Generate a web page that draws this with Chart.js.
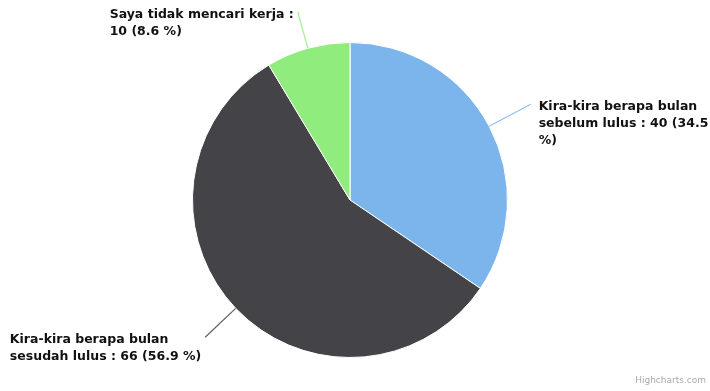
<!DOCTYPE html>
<html>
<head>
    <title>Pie</title>
    <script src="https://cdn.jsdelivr.net/npm/chart.js"></script>
    <style>
        body { margin: 0; background: #fff; }
        #wrap { position: relative; width: 710px; height: 391px; }
    </style>
</head>
<body>
    <div id="wrap"><canvas id="pieChart"></canvas></div>

    <script>
        const categories = [
            'Kira-kira berapa bulan sebelum lulus',
            'Kira-kira berapa bulan sesudah lulus',
            'Saya tidak mencari kerja'
        ];
        const values = [40, 66, 10];
        const colors = ['#7cb5ec', '#434348', '#90ed7d'];
        // how far out each label sits from the pie edge, and its wrap width
        const labelDistance = [47, 42, 38];
        const labelWrap = [172, 200, 195];

        const total = values.reduce((a, b) => a + b, 0);

        function wrapText(ctx, text, maxWidth) {
            const words = text.split(' ');
            const lines = [];
            let line = '';
            words.forEach(w => {
                const test = line ? line + ' ' + w : w;
                if (line && ctx.measureText(test).width > maxWidth) {
                    lines.push(line);
                    line = w;
                } else {
                    line = test;
                }
            });
            if (line) lines.push(line);
            return lines;
        }

        const pieLabels = {
            id: 'pieLabels',
            afterDatasetsDraw(chart) {
                const ctx = chart.ctx;
                const meta = chart.getDatasetMeta(0);
                ctx.save();
                ctx.font = 'bold 12.5px "DejaVu Sans"';
                ctx.textBaseline = 'middle';
                meta.data.forEach((arc, i) => {
                    const p = arc.getProps(['x', 'y', 'startAngle', 'endAngle', 'outerRadius'], true);
                    const mid = (p.startAngle + p.endAngle) / 2;
                    const cos = Math.cos(mid), sin = Math.sin(mid);
                    const sx = p.x + cos * p.outerRadius;
                    const sy = p.y + sin * p.outerRadius;
                    const ax = p.x + cos * (p.outerRadius + labelDistance[i]);
                    const ay = p.y + sin * (p.outerRadius + labelDistance[i]);

                    ctx.strokeStyle = colors[i];
                    ctx.globalAlpha = 0.85;
                    ctx.lineWidth = 1.2;
                    ctx.beginPath();
                    ctx.moveTo(sx, sy);
                    ctx.lineTo(ax, ay);
                    ctx.stroke();
                    ctx.globalAlpha = 1;

                    const pct = (values[i] / total * 100).toFixed(1);
                    const text = categories[i] + ' : ' + values[i] + ' (' + pct + ' %)';
                    const lines = wrapText(ctx, text, labelWrap[i]);
                    const w = Math.max(...lines.map(l => ctx.measureText(l).width));
                    const tx = cos >= 0 ? ax + 8 : ax - 4 - w;
                    ctx.fillStyle = '#111';
                    ctx.textAlign = 'left';
                    lines.forEach((l, k) => ctx.fillText(l, tx, ay + 3 + k * 17));
                });

                ctx.font = '9px "DejaVu Sans"';
                ctx.fillStyle = '#aaa';
                ctx.textAlign = 'right';
                ctx.fillText('Highcharts.com', 706, 381);
                ctx.restore();
            }
        };

        new Chart(document.getElementById('pieChart'), {
            type: 'pie',
            data: {
                labels: categories,
                datasets: [{
                    data: values,
                    backgroundColor: colors,
                    borderColor: '#ffffff',
                    borderWidth: 1,
                    hoverOffset: 0
                }]
            },
            options: {
                responsive: true,
                maintainAspectRatio: false,
                animation: false,
                layout: { padding: { top: 42, bottom: 33, left: 0, right: 10 } },
                plugins: {
                    legend: { display: false },
                    tooltip: { enabled: false }
                }
            },
            plugins: [pieLabels]
        });
    </script>
</body>
</html>
